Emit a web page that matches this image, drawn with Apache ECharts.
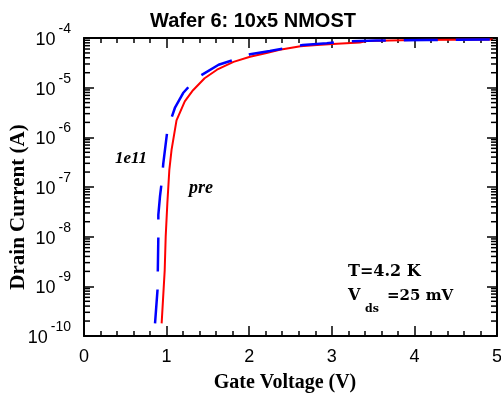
<!DOCTYPE html>
<html><head><meta charset="utf-8">
<script src="https://cdn.jsdelivr.net/npm/echarts@6/dist/echarts.min.js"></script>
<style>html,body{margin:0;padding:0;background:#fff}#c{width:501px;height:401px}</style>
</head><body><div id="c"></div>
<script>
// Data
const gateVoltagePre = [0.94, 0.977, 0.989, 1.009, 1.033, 1.06, 1.12, 1.22, 1.32, 1.46, 1.61, 1.81, 2.01, 2.21, 2.37, 2.62, 2.82, 3.01, 3.34, 3.42, 3.98, 4.95];
const drainCurrentPre = [1.8e-10, 2.1e-9, 1.0e-8, 4.7e-8, 2.2e-7, 5.6e-7, 2.2e-6, 5.3e-6, 8.9e-6, 1.55e-5, 2.3e-5, 3.3e-5, 4.2e-5, 5.0e-5, 5.8e-5, 6.8e-5, 7.2e-5, 7.6e-5, 8.1e-5, 8.7e-5, 9.1e-5, 9.3e-5];
const gateVoltage1e11 = [0.86, 0.89, 0.90, 0.90, 0.92, 0.94, 0.96, 1.01, 1.10, 1.20, 1.36, 1.63, 1.81, 2.01, 2.25, 2.65, 2.94, 3.14, 3.54, 4.15, 4.95];
const drainCurrent1e11 = [1.8e-10, 8.5e-10, 1.0e-8, 2.75e-8, 6.5e-8, 1.23e-7, 3.0e-7, 1.41e-6, 3.9e-6, 7.8e-6, 1.55e-5, 2.9e-5, 3.6e-5, 4.7e-5, 5.5e-5, 7.2e-5, 7.8e-5, 8.5e-5, 8.9e-5, 9.1e-5, 9.3e-5];
const xTickLabels = ['0', '1', '2', '3', '4', '5'];
const yTickExponents = [-10, -9, -8, -7, -6, -5, -4];
const minorMultipliers = [2, 3, 4, 5, 6, 7, 8, 9];

const minorTickValues = [];
for (let i = 0; i < yTickExponents.length - 1; i++) {
  for (const m of minorMultipliers) minorTickValues.push([0, m * Math.pow(10, yTickExponents[i])]);
}

const chart = echarts.init(document.getElementById('c'), null, {renderer: 'canvas'});
const black = '#000';
const axisLineStyle = {show: true, onZero: false, lineStyle: {color: black, width: 2}};
const tickStyle = {color: black, width: 1.5};

const option = {
  animation: false,
  backgroundColor: '#fff',
  title: {
    text: 'Wafer 6: 10x5 NMOST', left: 145, top: 6,
    textStyle: {fontFamily: 'Liberation Sans', fontWeight: 'bold', fontSize: 20, color: black}
  },
  grid: {left: 84, right: 4, top: 38, bottom: 65, containLabel: false, outerBoundsMode: 'none'},
  xAxis: [
    {
      type: 'value', min: 0, max: 5, interval: 1, position: 'bottom',
      axisLine: axisLineStyle,
      axisTick: {inside: true, length: 10, lineStyle: tickStyle},
      minorTick: {show: true, splitNumber: 5, length: 5, lineStyle: tickStyle},
      splitLine: {show: false}, minorSplitLine: {show: false},
      axisLabel: {fontFamily: 'Liberation Sans', fontSize: 18, color: black, margin: 12,
        formatter: v => xTickLabels[Math.round(v)]},
      name: 'Gate Voltage (V)', nameLocation: 'middle', nameGap: 37,
      nameTextStyle: {fontFamily: 'Liberation Serif', fontWeight: 'bold', fontSize: 20, color: black, padding: [0, 11, 0, 0]}
    },
    {
      type: 'value', min: 0, max: 5, interval: 1, position: 'top',
      axisLine: axisLineStyle,
      axisTick: {inside: true, length: 10, lineStyle: tickStyle},
      minorTick: {show: true, splitNumber: 5, length: 5, lineStyle: tickStyle},
      splitLine: {show: false}, minorSplitLine: {show: false},
      axisLabel: {show: false}
    }
  ],
  yAxis: [
    {
      type: 'log', logBase: 10, min: 1e-10, max: 1e-4, interval: 1, position: 'left',
      axisLine: axisLineStyle,
      axisTick: {inside: true, length: 10, lineStyle: tickStyle},
      minorTick: {show: false},
      splitLine: {show: false},
      axisLabel: {
        margin: 13, color: black, padding: [4, 0, 0, 0],
        formatter: v => '{a|10}{b|' + Math.round(Math.log10(v)) + '}',
        rich: {
          a: {fontFamily: 'Liberation Sans', fontSize: 18, lineHeight: 36, color: black},
          b: {fontFamily: 'Liberation Sans', fontSize: 14, lineHeight: 14, verticalAlign: 'top', padding: [0, 0, 0, 3], color: black}
        }
      }
    },
    {
      type: 'log', logBase: 10, min: 1e-10, max: 1e-4, interval: 1, position: 'right',
      axisLine: axisLineStyle,
      axisTick: {inside: true, length: 10, lineStyle: tickStyle},
      minorTick: {show: false},
      splitLine: {show: false},
      axisLabel: {show: false}
    }
  ],
  series: [
    {
      name: 'pre', type: 'line', xAxisIndex: 0, yAxisIndex: 0,
      data: gateVoltagePre.map((v, i) => [v, drainCurrentPre[i]]),
      showSymbol: false, symbol: 'none', smooth: false, z: 2,
      lineStyle: {color: '#ff0000', width: 2}
    },
    {
      name: '1e11', type: 'line', xAxisIndex: 0, yAxisIndex: 0,
      data: gateVoltage1e11.map((v, i) => [v, drainCurrent1e11[i]]),
      showSymbol: false, symbol: 'none', smooth: false, z: 3,
      lineStyle: {color: '#0000ff', width: 2.5, type: [34, 18]}
    },
    {
      type: 'custom', xAxisIndex: 0, yAxisIndex: 0, silent: true, z: 5,
      data: minorTickValues,
      renderItem: (params, api) => {
        const v = api.value(1);
        const pl = api.coord([0, v]);
        const pr = api.coord([5, v]);
        return {type: 'group', children: [
          {type: 'line', shape: {x1: pl[0], y1: pl[1], x2: pl[0] + 6, y2: pl[1]}, style: {stroke: black, lineWidth: 1.5}},
          {type: 'line', shape: {x1: pr[0] - 6, y1: pr[1], x2: pr[0], y2: pr[1]}, style: {stroke: black, lineWidth: 1.5}}
        ]};
      }
    }
  ],
  graphic: [
    {type: 'text', x: 19, y: 207, rotation: Math.PI / 2, style: {text: 'Drain Current (A)', fontFamily: 'Liberation Serif', fontWeight: 'bold', fontSize: 21, fill: black, align: 'center', verticalAlign: 'middle'}},
    {type: 'text', x: 115, y: 159, style: {text: '1e11', fontFamily: 'Liberation Serif', fontStyle: 'italic', fontWeight: 'bold', fontSize: 17, fill: black, align: 'left', verticalAlign: 'middle'}},
    {type: 'text', x: 189, y: 188, style: {text: 'pre', fontFamily: 'Liberation Serif', fontStyle: 'italic', fontWeight: 'bold', fontSize: 18, fill: black, align: 'left', verticalAlign: 'middle'}},
    {type: 'text', x: 348, y: 272, style: {text: 'T=4.2 K', fontFamily: 'DejaVu Serif', fontWeight: 'bold', fontSize: 16, fill: black, align: 'left', verticalAlign: 'middle'}},
    {type: 'text', x: 348, y: 296, style: {text: 'V', fontFamily: 'DejaVu Serif', fontWeight: 'bold', fontSize: 16, fill: black, align: 'left', verticalAlign: 'middle'}},
    {type: 'text', x: 365, y: 309, style: {text: 'ds', fontFamily: 'DejaVu Serif', fontWeight: 'bold', fontSize: 11, fill: black, align: 'left', verticalAlign: 'middle'}},
    {type: 'text', x: 387, y: 296, style: {text: '=25 mV', fontFamily: 'DejaVu Serif', fontWeight: 'bold', fontSize: 15, fill: black, align: 'left', verticalAlign: 'middle'}}
  ]
};
chart.setOption(option);
</script>
</body></html>
